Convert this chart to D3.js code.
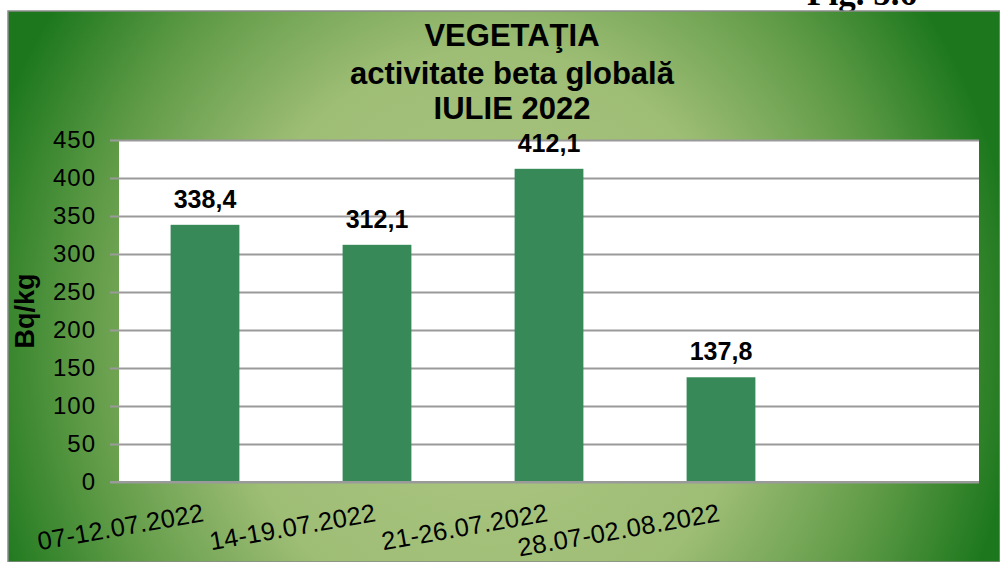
<!DOCTYPE html>
<html>
<head>
<meta charset="utf-8">
<script src="https://cdn.jsdelivr.net/npm/d3@7"></script>
<style>
  body { margin: 0; background: #fff; }
  svg { display: block; font-family: "Liberation Sans", Arial, sans-serif; }
</style>
</head>
<body>
<svg width="1000" height="562"></svg>
<script>
// data
var categories = ["07-12.07.2022", "14-19.07.2022", "21-26.07.2022", "28.07-02.08.2022"];
var values = [338.4, 312.1, 412.1, 137.8];
var valueLabels = ["338,4", "312,1", "412,1", "137,8"];
var yTicks = [0, 50, 100, 150, 200, 250, 300, 350, 400, 450];
var titleLines = ["VEGETAŢIA", "activitate beta globală", "IULIE 2022"];

var svg = d3.select("svg");

// figure caption, cut by the chart frame
svg.append("text")
  .attr("x", 862).attr("y", 5)
  .attr("text-anchor", "middle")
  .style("font-family", "'Liberation Serif', 'Times New Roman', serif")
  .style("font-weight", "bold")
  .style("font-size", "35px")
  .text("Fig. 5.6");

// background gradient
var defs = svg.append("defs");
var grad = defs.append("radialGradient")
  .attr("id", "bg")
  .attr("gradientUnits", "userSpaceOnUse")
  .attr("cx", 0).attr("cy", 0).attr("r", 1)
  .attr("gradientTransform", "translate(490,340) scale(530,580)");
grad.append("stop").attr("offset", 0).attr("stop-color", "#afc884");
grad.append("stop").attr("offset", 0.5).attr("stop-color", "#9ebd75");
grad.append("stop").attr("offset", 0.78).attr("stop-color", "#5e9a46");
grad.append("stop").attr("offset", 1).attr("stop-color", "#1d781d");

svg.append("rect")
  .attr("x", 8).attr("y", 11)
  .attr("width", 992).attr("height", 551)
  .attr("fill", "url(#bg)")
  .attr("stroke", "#8a8a8a").attr("stroke-width", 1.5);

var plot = {left: 119, right: 979, top: 140, bottom: 482};

var x = d3.scaleBand()
  .domain(categories.concat([""]))
  .range([plot.left, plot.right])
  .paddingInner(0.6)
  .paddingOuter(0.3);

var y = d3.scaleLinear()
  .domain([0, 450])
  .range([plot.bottom, plot.top]);

// plot area
svg.append("rect")
  .attr("x", plot.left).attr("y", plot.top)
  .attr("width", plot.right - plot.left)
  .attr("height", plot.bottom - plot.top)
  .attr("fill", "#fff");

// gridlines
var grid = svg.append("g")
  .attr("transform", "translate(" + plot.left + ",0)")
  .call(d3.axisLeft(y).tickValues(yTicks).tickSize(-(plot.right - plot.left)).tickFormat(""));
grid.select(".domain").remove();
grid.selectAll("line").attr("stroke", "#9a9a9a").attr("stroke-width", 2);

// y axis
var yAxis = svg.append("g")
  .attr("transform", "translate(" + plot.left + ",0)")
  .call(d3.axisLeft(y).tickValues(yTicks).tickSize(9).tickPadding(14));
yAxis.select(".domain").remove();
yAxis.selectAll("line").attr("stroke", "#9a9a9a").attr("stroke-width", 2);
yAxis.selectAll("text")
  .attr("fill", "#000")
  .style("font-size", "24px")
  .style("letter-spacing", "1px")
  .style("font-family", "'Liberation Sans', Arial, sans-serif");

// bars
svg.selectAll("rect.bar")
  .data(values)
  .enter()
  .append("rect")
  .attr("class", "bar")
  .attr("x", function(d, i) { return x(categories[i]); })
  .attr("y", function(d) { return y(d); })
  .attr("width", x.bandwidth())
  .attr("height", function(d) { return y(0) - y(d); })
  .attr("fill", "#378a58");

// x axis line
svg.append("line")
  .attr("x1", plot.left - 9).attr("x2", plot.right)
  .attr("y1", y(0)).attr("y2", y(0))
  .attr("stroke", "#9a9a9a").attr("stroke-width", 2);

// value labels
svg.selectAll("text.val")
  .data(values)
  .enter()
  .append("text")
  .attr("class", "val")
  .attr("x", function(d, i) { return x(categories[i]) + x.bandwidth() / 2; })
  .attr("y", function(d) { return y(d) - 17; })
  .attr("text-anchor", "middle")
  .style("font-weight", "bold")
  .style("font-size", "25px")
  .text(function(d, i) { return valueLabels[i]; });

// category labels
svg.selectAll("text.cat")
  .data(categories)
  .enter()
  .append("text")
  .attr("class", "cat")
  .attr("transform", function(d) {
    return "translate(" + (x(d) + x.bandwidth() / 2) + ",521) rotate(-10)";
  })
  .attr("text-anchor", "end")
  .style("font-size", "25.5px")
  .style("letter-spacing", "0.3px")
  .text(function(d) { return d; });

// y title
svg.append("text")
  .attr("transform", "translate(34,311) rotate(-90)")
  .attr("text-anchor", "middle")
  .style("font-weight", "bold")
  .style("font-size", "27px")
  .text("Bq/kg");

// chart title
svg.selectAll("text.title")
  .data(titleLines)
  .enter()
  .append("text")
  .attr("class", "title")
  .attr("x", 512)
  .attr("y", function(d, i) { return [46, 84, 119][i]; })
  .attr("text-anchor", "middle")
  .style("font-weight", "bold")
  .style("font-size", "31px")
  .text(function(d) { return d; });
</script>
</body>
</html>
